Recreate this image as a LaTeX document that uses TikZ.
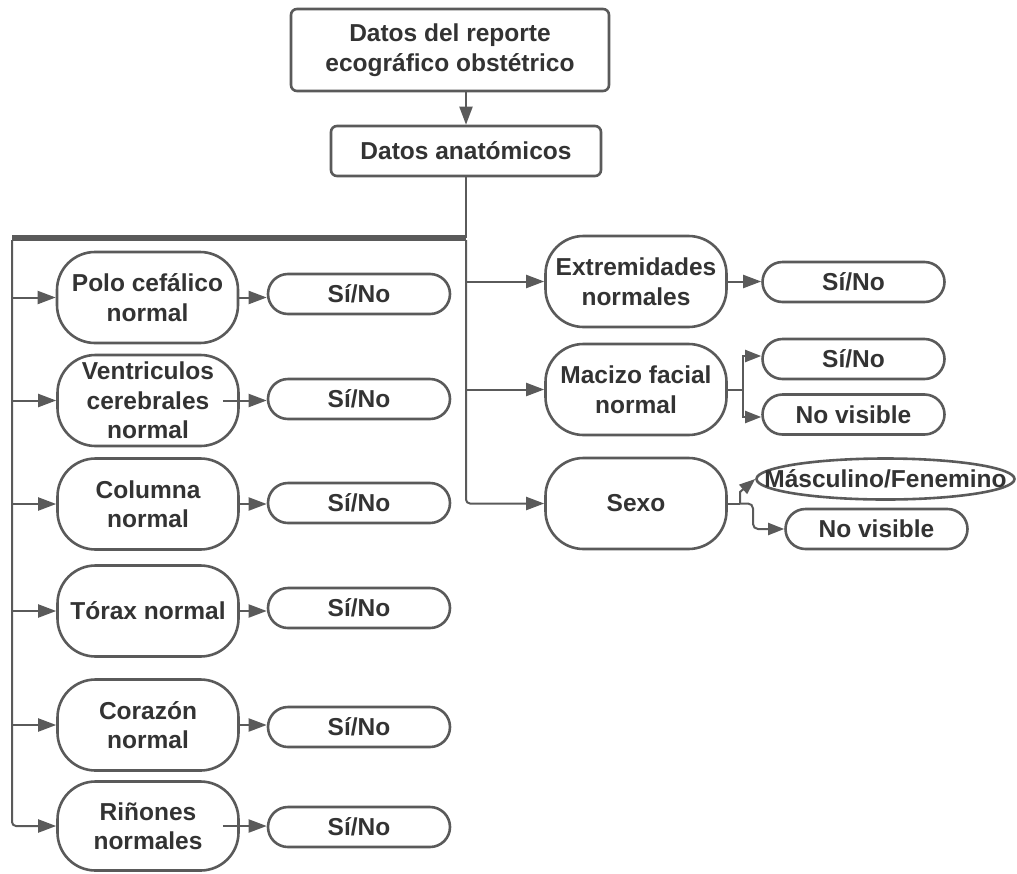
\documentclass[tikz,border=0pt]{standalone}
\usepackage{fontspec}
\setmainfont{Liberation Sans}
\usetikzlibrary{arrows.meta,shapes.geometric}
\definecolor{edge}{HTML}{5A5A5A}
\definecolor{ink}{HTML}{333333}
\tikzset{
  base/.style={draw=edge, line width=2.6pt, text=ink, fill=white,
    font=\fontsize{24.5}{29.5}\selectfont\bfseries, align=center, inner sep=0pt},
  rectbox/.style={base, rounded corners=6pt},
  pill/.style={base, rounded corners=38pt, minimum width=181pt, minimum height=91pt},
  answer/.style={base, rounded corners=20pt, minimum width=182pt, minimum height=40pt},
  oval/.style={base, ellipse, minimum width=258pt, minimum height=41pt},
  lbl/.style={text=ink, font=\fontsize{24.5}{29.5}\selectfont\bfseries, inner sep=0pt},
  link/.style={draw=edge, line width=2pt},
  arr/.style={link, -{Triangle[length=18pt,width=13pt]}},
  arrs/.style={link, -{Triangle[length=16pt,width=12pt]}},
  bus/.style={draw=edge, line width=5.5pt},
}
\begin{document}
\begin{tikzpicture}[x=1pt,y=-1pt]
\useasboundingbox (0,0) rectangle (1017,873);

% header boxes
\node[rectbox, minimum width=318pt, minimum height=82pt] (top) at (450,50)
  {Datos del reporte\\ecográfico obstétrico};
\node[rectbox, minimum width=270pt, minimum height=50pt] (anat) at (466,151)
  {Datos anatómicos};

% left column
\node[pill] (polo)   at (147.5,297.5) {Polo cefálico\\normal};
\node[pill] (ventr)  at (148,400.5)   {Ventriculos\\cerebrales\\normal};
\node[pill] (col)    at (148,504)     {Columna\\normal};
\node[pill] (torax)  at (148,611)     {Tórax normal};
\node[pill] (coraz)  at (148,725)     {Corazón\\normal};
\node[pill, minimum height=89pt] (rinon) at (148,826) {Riñones\\normales};

\node[answer] (s1) at (359,294) {Sí/No};
\node[answer] (s2) at (359,399) {Sí/No};
\node[answer] (s3) at (359,503) {Sí/No};
\node[answer] (s4) at (359,608) {Sí/No};
\node[answer] (s5) at (359,727) {Sí/No};
\node[answer] (s6) at (359,827) {Sí/No};

% right column
\node[pill] (ext)  at (636,281.5) {Extremidades\\normales};
\node[pill] (mac)  at (636,389.5) {Macizo facial\\normal};
\node[pill] (sexo) at (636,503.5) {Sexo};

\node[answer] (es)  at (853.5,282)   {Sí/No};
\node[answer] (ms)  at (853.5,359)   {Sí/No};
\node[answer] (mnv) at (853.5,414.5) {No visible};
\node[oval]   (sm)  at (885.5,479)   {};
\node[lbl] at (sm.center) {Másculino/Fenemino};
\node[answer] (snv) at (876.5,529)   {No visible};

% trunk and buses
\coordinate (busR) at (466,238);
\coordinate (busL) at (12,238);
\draw[arr] (top.south -| anat.north) -- (anat.north);
\draw[link, line width=2.8pt] (anat.south) -- (busR);
\draw[bus, rounded corners=3pt] (busR) -- (busL);
\draw[arr, rounded corners=4pt] ([yshift=-2pt]busL) |- (rinon.west);
\draw[arr, rounded corners=4pt] ([yshift=-2pt]busR) |- (sexo.west);

\foreach \n in {polo,ventr,col,torax,coraz}
  \draw[arr] (busL |- \n.west) -- (\n.west);
\foreach \n in {ext,mac}
  \draw[arr] (busR |- \n.west) -- (\n.west);

% answers of the left column
\draw[arr] (polo.east)  -- (polo.east -| s1.west);
\draw[arr] ([xshift=-17pt]ventr.east) -- (ventr.east -| s2.west);
\draw[arr] (col.east)   -- (col.east -| s3.west);
\draw[arr] (torax.east) -- (torax.east -| s4.west);
\draw[arr] (coraz.east) -- (coraz.east -| s5.west);
\draw[arr] ([xshift=-17pt]rinon.east) -- (rinon.east -| s6.west);

% answers of the right column
\draw[arr] (ext.east) -- (ext.east -| es.west);

\coordinate (macF) at (743,389.5);
\draw[link] (mac.east) -- (macF);
\draw[arrs] (macF) |- ([yshift=3pt]ms.west);
\draw[arrs] (macF) |- ([yshift=-2.5pt]mnv.west);

\coordinate (sexF) at (740,503.5);
\coordinate (sexG) at (753,503.5);
\draw[link] (sexo.east) -- (sexF);
\draw[arrs] (sexF) -- (740,492) -- (sm.west);
\draw[arrs, rounded corners=5pt] (sexF) -- (sexG) -- (753,529) -- (snv.west);
\end{tikzpicture}
\end{document}
